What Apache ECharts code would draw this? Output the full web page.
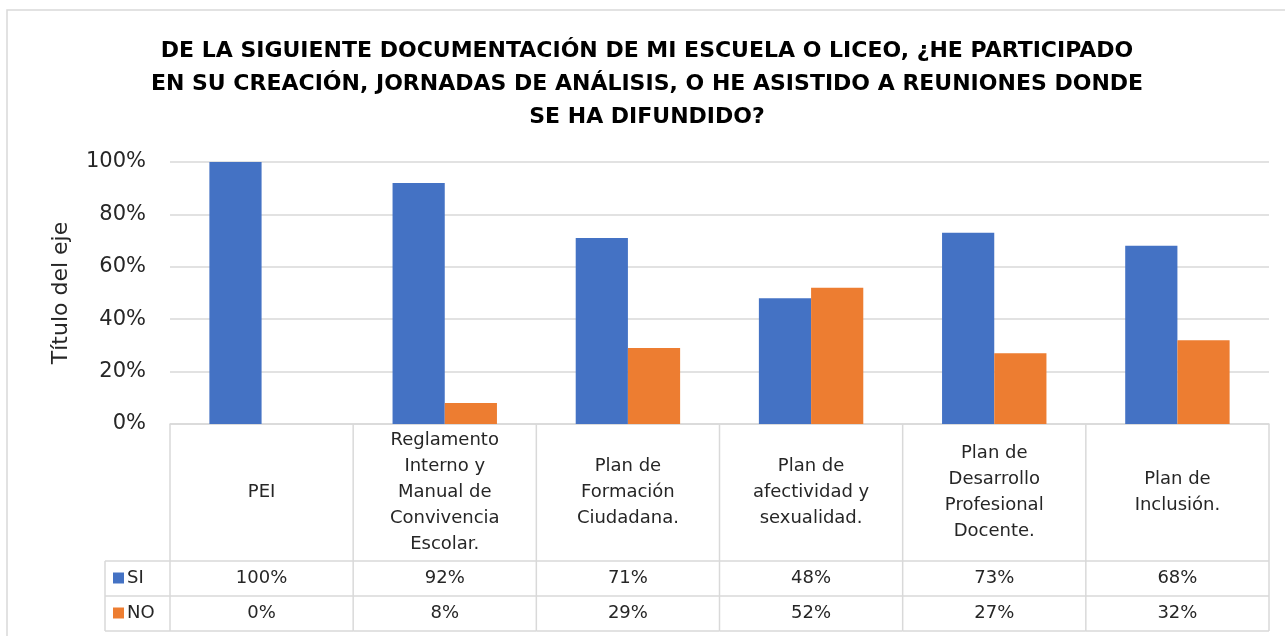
<!DOCTYPE html>
<html>
<head>
<meta charset="utf-8">
<script src="https://cdn.jsdelivr.net/npm/echarts@6/dist/echarts.min.js"></script>
<style>
  html, body { margin: 0; padding: 0; background: #fff; }
  #chart { width: 1285px; height: 636px; }
</style>
</head>
<body>
<div id="chart"></div>
<script>
  // categories (line breaks as wrapped in the data table)
  const categories = [
    'PEI',
    'Reglamento\nInterno y\nManual de\nConvivencia\nEscolar.',
    'Plan de\nFormación\nCiudadana.',
    'Plan de\nafectividad y\nsexualidad.',
    'Plan de\nDesarrollo\nProfesional\nDocente.',
    'Plan de\nInclusión.'
  ]
  const seriesNames = ['SI', 'NO']
  const siValues = [100, 92, 71, 48, 73, 68]
  const noValues = [0, 8, 29, 52, 27, 32]
  const yTicks = [0, 20, 40, 60, 80, 100]

  const colors = ['#4472c4', '#ed7d31']
  const gridColor = '#d9d9d9'
  const textColor = '#262626'
  const font = 'DejaVu Sans'

  // table row heights
  const labelRowH = 137
  const rowH = 35
  const keyColW = 65

  const chart = echarts.init(document.getElementById('chart'))

  function renderTable(params, api) {
    let idx = api.value(0)
    let p = api.coord([idx, 0])
    let cx = p[0]
    let y0 = p[1]
    let w = api.size([1, 0])[0]
    let x0 = cx - w / 2
    let x1 = cx + w / 2
    let lineStyle = { stroke: gridColor, lineWidth: 1.5 }
    let children = []
    let yEnd = y0 + labelRowH + rowH * 2

    // right border of the column
    children.push({ type: 'line', shape: { x1: x1, y1: y0, x2: x1, y2: yEnd }, style: lineStyle })
    // horizontal rules
    ;[labelRowH, labelRowH + rowH, labelRowH + rowH * 2].forEach(dy => {
      children.push({ type: 'line', shape: { x1: x0, y1: y0 + dy, x2: x1, y2: y0 + dy }, style: lineStyle })
    })
    // category label
    children.push({
      type: 'text',
      style: {
        x: cx, y: y0 + labelRowH / 2,
        text: categories[idx],
        align: 'center', verticalAlign: 'middle',
        font: '18px "' + font + '"', lineHeight: 26,
        fill: textColor
      }
    })
    // values
    ;[siValues[idx], noValues[idx]].forEach((v, k) => {
      children.push({
        type: 'text',
        style: {
          x: cx, y: y0 + labelRowH + rowH * k + rowH / 2,
          text: v + '%',
          align: 'center', verticalAlign: 'middle',
          font: '18px "' + font + '"',
          fill: textColor
        }
      })
    })

    if (idx === 0) {
      // left border and legend key column
      children.push({ type: 'line', shape: { x1: x0, y1: y0, x2: x0, y2: yEnd }, style: lineStyle })
      let kx = x0 - keyColW
      children.push({ type: 'line', shape: { x1: kx, y1: y0 + labelRowH, x2: kx, y2: yEnd }, style: lineStyle })
      ;[labelRowH, labelRowH + rowH, labelRowH + rowH * 2].forEach(dy => {
        children.push({ type: 'line', shape: { x1: kx, y1: y0 + dy, x2: x0, y2: y0 + dy }, style: lineStyle })
      })
      seriesNames.forEach((name, k) => {
        let cy = y0 + labelRowH + rowH * k + rowH / 2
        children.push({ type: 'rect', shape: { x: kx + 8, y: cy - 6, width: 11, height: 11 }, style: { fill: colors[k] } })
        children.push({
          type: 'text',
          style: {
            x: kx + 22, y: cy,
            text: name,
            align: 'left', verticalAlign: 'middle',
            font: '18px "' + font + '"',
            fill: textColor
          }
        })
      })
    }
    return { type: 'group', children: children }
  }

  let option = {
    animation: false,
    color: colors,
    textStyle: { fontFamily: font },
    title: {
      text: 'DE LA SIGUIENTE DOCUMENTACIÓN DE MI ESCUELA O LICEO, ¿HE PARTICIPADO\nEN SU CREACIÓN, JORNADAS DE ANÁLISIS, O HE ASISTIDO A REUNIONES DONDE\nSE HA DIFUNDIDO?',
      left: 642,
      top: 30,
      textAlign: 'center',
      textStyle: {
        fontFamily: font,
        fontSize: 22,
        fontWeight: 'bold',
        lineHeight: 33,
        color: '#000'
      }
    },
    graphic: [{
      type: 'rect',
      shape: { x: 7, y: 10, width: 1300, height: 660 },
      style: { fill: 'none', stroke: gridColor, lineWidth: 1.5 },
      silent: true
    }],
    grid: {
      left: 170,
      right: 16,
      top: 162,
      bottom: 212
    },
    xAxis: {
      type: 'category',
      data: categories,
      axisLine: { lineStyle: { color: gridColor, width: 1.5 } },
      axisTick: { show: false },
      axisLabel: { show: false }
    },
    yAxis: {
      type: 'value',
      min: 0,
      max: 100,
      interval: 20,
      name: 'Título del eje',
      nameLocation: 'middle',
      nameRotate: 90,
      nameGap: 98,
      nameTextStyle: { fontSize: 22, color: textColor, fontFamily: font },
      axisLine: { show: false },
      axisTick: { show: false },
      axisLabel: {
        formatter: v => yTicks.indexOf(v) >= 0 ? v + '%' : '',
        fontSize: 21,
        color: textColor,
        margin: 24
      },
      splitLine: { lineStyle: { color: gridColor, width: 1.5 } }
    },
    series: [{
      name: seriesNames[0],
      type: 'bar',
      data: siValues,
      barGap: '0%',
      barCategoryGap: '43%'
    }, {
      name: seriesNames[1],
      type: 'bar',
      data: noValues,
      barGap: '0%',
      barCategoryGap: '43%'
    }, {
      type: 'custom',
      renderItem: renderTable,
      clip: false,
      silent: true,
      encode: { x: 0, y: 1 },
      data: categories.map((c, i) => [i, siValues[i]]),
      z: 5
    }]
  }

  chart.setOption(option)
</script>
</body>
</html>
